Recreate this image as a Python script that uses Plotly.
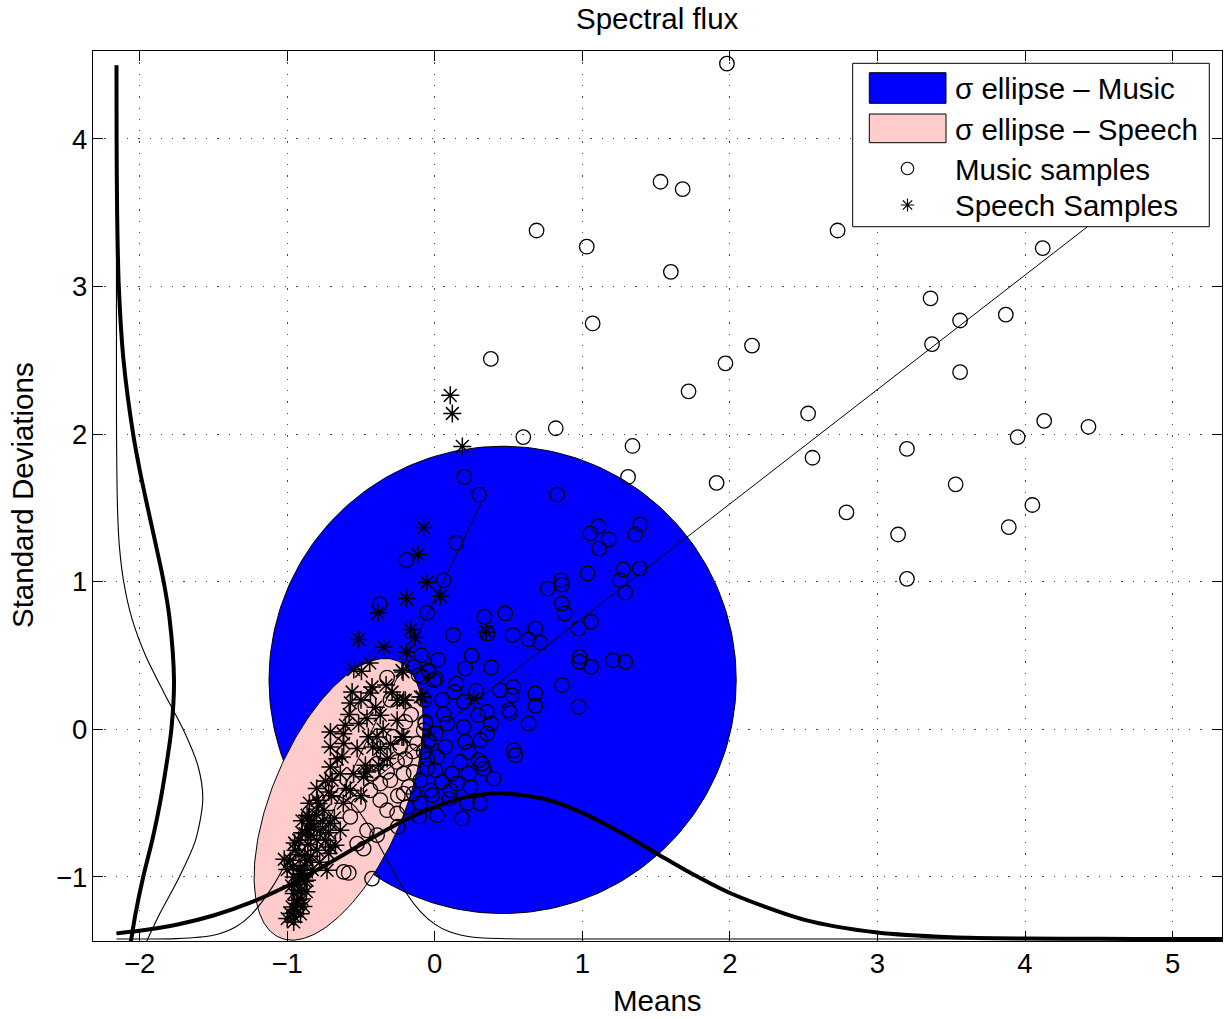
import numpy as np
import plotly.graph_objects as go

# ---------------- text ----------------
TITLE = "Spectral flux"
X_LABEL = "Means"
Y_LABEL = "Standard Deviations"
X_TICKS = [-2, -1, 0, 1, 2, 3, 4, 5]
Y_TICKS = [-1, 0, 1, 2, 3, 4]
LEGEND_LABELS = ["σ ellipse – Music", "σ ellipse – Speech", "Music samples", "Speech Samples"]

# ---------------- data ----------------
music_samples = [
    (1.98, 4.51), (1.53, 3.71), (1.68, 3.66), (0.69, 3.38), (1.03, 3.27), (2.73, 3.38),
    (4.12, 3.26), (1.60, 3.10), (3.36, 2.92), (1.07, 2.75), (3.87, 2.81), (3.56, 2.77),
    (3.37, 2.61), (2.15, 2.60), (0.38, 2.51), (1.97, 2.48), (3.56, 2.42), (1.72, 2.29),
    (2.53, 2.14), (0.82, 2.04), (0.60, 1.98), (4.13, 2.09), (4.43, 2.05), (3.95, 1.98),
    (1.34, 1.92), (3.20, 1.90), (2.56, 1.84), (0.20, 1.71), (1.31, 1.71), (1.91, 1.67),
    (3.53, 1.66), (0.30, 1.59), (0.83, 1.59), (2.79, 1.47), (4.05, 1.52), (3.89, 1.37),
    (3.14, 1.32), (3.20, 1.02),
    (0.146, 1.263), (1.11, 1.376), (1.054, 1.327), (1.178, 1.286), (1.115, 1.225),
    (1.393, 1.388), (1.359, 1.322), (1.036, 1.056), (1.276, 1.083), (1.388, 1.089),
    (1.257, 1.01), (0.06, 1.01), (0.856, 1.01), (1.291, 0.927), (0.765, 0.954),
    (0.862, 0.981), (0.862, 0.852), (0.88, 0.785), (-0.052, 0.789), (0.336, 0.762),
    (0.478, 0.785), (0.124, 0.638), (0.358, 0.649), (0.528, 0.638), (0.636, 0.61),
    (0.682, 0.683), (0.715, 0.588), (0.975, 0.683), (1.059, 0.728), (-0.091, 0.502),
    (0.982, 0.491), (0.98, 0.457), (1.059, 0.423), (1.208, 0.468), (1.291, 0.457),
    (0.207, 0.412), (0.383, 0.419), (-0.041, 0.40), (0.009, 0.344), (-0.109, 0.367),
    (0.146, 0.31), (0.133, 0.253), (0.444, 0.265), (0.53, 0.287), (0.524, 0.231),
    (0.682, 0.243), (0.862, 0.299), (0.196, 0.186), (0.354, 0.118), (0.501, 0.129),
    (0.682, 0.159), (0.975, 0.152), (0.06, 0.102), (-0.064, 0.039), (0.083, 0.039),
    (0.293, 0.096), (0.381, 0.039), (0.512, 0.111), (0.636, 0.039), (0.004, -0.028),
    (0.196, 0.016), (0.354, -0.028), (-0.041, -0.085), (0.072, -0.119), (0.207, -0.085),
    (0.309, -0.074), (-0.075, -0.153), (0.23, -0.153), (0.535, -0.142), (0.546, -0.175),
    (0.016, -0.187), (0.173, -0.221), (0.297, -0.209), (0.32, -0.232), (0.331, -0.266),
    (-0.052, -0.266), (0.004, -0.277), (0.117, -0.3), (0.23, -0.3), (0.399, -0.333),
    (-0.098, -0.345), (0.049, -0.356), (0.151, -0.367), (0.241, -0.39), (-0.03, -0.413),
    (0.106, -0.413), (-0.143, -0.435), (0.309, -0.503), (0.016, -0.582), (0.185, -0.604),
    (-0.188, -0.526), (-0.018, -0.446),
    (-0.192, 1.146), (-0.373, 0.847), (-0.323, 0.351), (-0.47, 0.148), (-0.064, 0.05),
    (-0.233, -0.119), (-0.255, -0.221), (-0.369, -0.367), (-0.12, -0.096), (-0.177, -0.39),
    (-0.211, -0.3), (-0.143, -0.289), (-0.323, -0.289), (-0.143, 0.423), (-0.041, 0.389),
    (-0.086, 0.355), (-0.007, 0.333), (-0.075, -0.006), (-0.041, -0.074), (-0.425, -0.3),
    (-0.301, -0.345), (-0.436, -0.413), (-0.369, -0.48), (-0.516, -0.514), (-0.572, -0.593),
    (-0.459, -0.684), (-0.526, -0.774), (-0.482, -0.808), (-0.391, -0.717), (-0.617, -0.966),
    (-0.583, -0.973), (-0.425, -1.011), (-0.211, -0.435), (-0.323, -0.548), (-0.255, -0.57),
    (-0.391, -0.232), (-0.346, -0.164),
    (-0.104, -0.592), (-0.25, -0.66), (-0.2, -0.2), (-0.28, -0.05), (-0.16, 0.1),
    (-0.3, 0.2), (-0.25, -0.45), (-0.1, -0.5), (-0.05, -0.2), (-0.15, -0.15),
    (0.22, -0.5), (0.1, -0.47), (-0.07, 0.2), (0.05, 0.2), (0.28, 0.26), (0.02, 0.47),
    (0.25, 0.5), (-0.2, 0.05),
]

speech_samples = [
    (0.105, 2.263), (0.119, 2.14), (0.187, 1.917), (-0.075, 1.367), (-0.113, 1.184),
    (-0.052, 0.995), (0.038, 0.902), (-0.192, 0.886), (-0.384, 0.789), (-0.516, 0.609),
    (-0.346, 0.558), (-0.165, 0.676), (-0.136, 0.622), (-0.192, 0.524), (-0.441, 0.45),
    (-0.549, 0.405), (-0.497, 0.394), (-0.222, 0.4), (0.35, 0.66), (0.264, 0.209),
    (-0.211, 0.197), (-0.098, 0.22), (-0.211, -0.051),
    (-0.215, 0.389), (-0.56, 0.253), (-0.572, 0.179), (-0.425, 0.287), (-0.436, 0.247),
    (-0.289, 0.253), (-0.255, 0.197), (-0.199, 0.197), (-0.086, 0.22), (-0.369, 0.096),
    (-0.459, 0.073), (-0.255, 0.062), (-0.516, 0.039), (-0.606, 0.028), (-0.707, -0.018),
    (-0.391, -0.051), (-0.222, -0.051), (-0.707, -0.119), (-0.617, -0.096), (-0.526, -0.13),
    (-0.628, -0.187), (-0.369, -0.13), (-0.707, -0.255), (-0.47, -0.243), (-0.459, -0.289),
    (-0.64, -0.3), (-0.482, -0.322), (-0.696, -0.345), (-0.719, -0.424), (-0.572, -0.413),
    (-0.323, -0.198), (-0.38, -0.243),
    (-0.787, -0.503), (-0.854, -0.593), (-0.797, -0.480), (-0.865, -0.582), (-0.843, -0.638),
    (-0.877, -0.706), (-0.775, -0.684), (-0.922, -0.751), (-0.741, -0.751), (-0.944, -0.819),
    (-0.797, -0.819), (-0.707, -0.797), (-0.978, -0.887), (-0.865, -0.887), (-0.730, -0.955),
    (-0.911, -0.955), (-0.956, -1.0), (-0.865, -1.023), (-0.911, -1.091), (-0.956, -1.112),
    (-0.933, -1.158), (-0.967, -1.203), (-0.978, -1.248), (-1.0, -1.282), (-0.956, -1.305),
    (-0.719, -0.841), (-0.673, -0.785), (-0.707, -0.638), (-0.640, -0.684),
    (-0.93, -1.05), (-0.9, -0.98), (-0.88, -0.92), (-0.9, -1.15), (-0.94, -1.22),
    (-0.91, -1.25), (-0.88, -0.85), (-0.86, -0.78), (-0.84, -0.72), (-0.82, -0.66),
    (-0.80, -0.75), (-0.78, -0.9), (-0.83, -0.95), (-0.87, -1.1), (-0.92, -0.85),
    (-0.96, -0.93), (-0.9, -0.7), (-0.85, -0.5), (-0.75, -0.55), (-0.7, -0.45),
    (-0.68, -0.6), (-0.62, -0.5), (-0.6, -0.4), (-0.66, -0.2), (-0.55, -0.3),
    (-0.5, -0.45), (-0.42, -0.12), (-0.35, 0.0), (-0.3, -0.1), (-0.58, 0.1),
    (-0.5, 0.2), (-0.4, 0.15), (-0.33, 0.3), (-0.45, -0.05), (-0.62, -0.03),
    (-0.74, -0.35), (-0.8, -0.4), (-0.93, -1.18), (-0.95, -1.27), (-0.89, -1.2),
    (-0.92, -0.98), (-0.86, -0.68), (-0.76, -0.62), (-0.72, -0.7), (-0.8, -0.58),
    (-0.9, -0.62), (-0.95, -0.77), (-0.97, -1.06), (-0.88, -1.03), (-0.84, -0.86),
    (-1.02, -0.88), (-1.0, -0.95),
]

# sigma ellipses: centre, semi-axes, tilt in degrees
music_center = (0.46, 0.335)
music_axes = (1.583, 1.583)
music_tilt = 0.0
speech_center = (-0.651, -0.474)
speech_axes = (1.019, 0.448)
speech_tilt = 67.0

# principal-axis lines (end points)
music_axis_x = [-0.62, 4.9]
music_axis_y = [-0.503, 3.775]
speech_axis_x = [-0.95, 0.32]
speech_axis_y = [-1.096, 1.546]

# marginal density curves (values above their base lines)
base_y = -1.42     # base of the horizontal (means) densities
base_x = -2.157    # base of the vertical (std) densities

mean_grid = [-2.157, -2.0, -1.75, -1.5, -1.25, -1.0, -0.75, -0.5, -0.25, 0.0, 0.25, 0.45,
             0.75, 1.0, 1.25, 1.5, 1.75, 2.0, 2.5, 3.0, 3.5, 4.0, 4.5, 5.0, 5.4]
music_mean_density = [0.0376, 0.055, 0.0964, 0.159, 0.246, 0.359, 0.494, 0.640, 0.780, 0.895,
                      0.968, 0.987, 0.946, 0.854, 0.726, 0.581, 0.438, 0.311, 0.131, 0.0433,
                      0.0113, 0.0023, 0.0004, 0.0, 0.0]

speech_mean_grid = [-2.157, -1.75, -1.5, -1.35, -1.25, -1.1, -1.0, -0.85, -0.75, -0.66, -0.55,
                    -0.45, -0.35, -0.2, -0.1, 0.0, 0.1, 0.25, 0.5, 1.0, 2.0, 3.0, 4.0, 5.4]
speech_mean_density = [0.0, 0.002, 0.025, 0.081, 0.158, 0.353, 0.529, 0.800, 0.926, 0.966, 0.907,
                       0.768, 0.586, 0.321, 0.189, 0.100, 0.048, 0.013, 0.001, 0.0, 0.0, 0.0,
                       0.0, 0.0]

std_grid = [-1.5, -1.25, -1.0, -0.75, -0.5, -0.25, 0.0, 0.33, 0.75, 1.0, 1.25, 1.5, 1.75, 2.0,
            2.5, 3.0, 3.5, 4.0, 4.5]
music_std_density = [0.088, 0.129, 0.181, 0.243, 0.295, 0.337, 0.372, 0.39, 0.36, 0.32, 0.267,
                     0.212, 0.159, 0.113, 0.048, 0.016, 0.0045, 0.001, 0.0002]

speech_std_grid = [-1.5, -1.25, -1.0, -0.75, -0.474, -0.25, 0.0, 0.25, 0.5, 0.75, 1.0, 1.25,
                   1.5, 2.0, 2.5, 3.0, 4.5]
speech_std_density = [0.175, 0.293, 0.426, 0.536, 0.585, 0.553, 0.452, 0.321, 0.197, 0.105,
                      0.049, 0.019, 0.007, 0.0005, 0.0, 0.0, 0.0]

# ---------------- styling / layout constants ----------------
W, H = 1230, 1019
L, R, T, B = 93, 8, 51, 78
X_RANGE = [-2.316, 5.335]
Y_RANGE = [-1.434, 4.596]
FONT = "Liberation Sans, Arial, Helvetica, sans-serif"
BLUE = "#0000FF"
PINK = "#FFCCCC"


def ellipse_path(center, axes, tilt_deg, n=240):
    t = np.linspace(0, 2 * np.pi, n)
    th = np.deg2rad(tilt_deg)
    a, b = axes
    ex = center[0] + a * np.cos(th) * np.cos(t) - b * np.sin(th) * np.sin(t)
    ey = center[1] + a * np.sin(th) * np.cos(t) + b * np.cos(th) * np.sin(t)
    return ex, ey


fig = go.Figure()

mx, my = ellipse_path(music_center, music_axes, music_tilt)
fig.add_trace(go.Scatter(x=mx, y=my, mode="lines", fill="toself", fillcolor=BLUE,
                         line=dict(color="black", width=1), hoverinfo="skip"))
sx, sy = ellipse_path(speech_center, speech_axes, speech_tilt)
fig.add_trace(go.Scatter(x=sx, y=sy, mode="lines", fill="toself", fillcolor=PINK,
                         line=dict(color="black", width=1), hoverinfo="skip"))

# principal axis lines
fig.add_trace(go.Scatter(x=music_axis_x, y=music_axis_y, mode="lines",
                         line=dict(color="black", width=1)))
fig.add_trace(go.Scatter(x=speech_axis_x, y=speech_axis_y, mode="lines",
                         line=dict(color="black", width=1)))

# samples
fig.add_trace(go.Scatter(x=[p[0] for p in music_samples], y=[p[1] for p in music_samples],
                         mode="markers",
                         marker=dict(symbol="circle-open", size=14.5, color="black",
                                     line=dict(width=1.3))))
fig.add_trace(go.Scatter(x=[p[0] for p in speech_samples], y=[p[1] for p in speech_samples],
                         mode="markers",
                         marker=dict(symbol="asterisk-open", size=15, color="black",
                                     line=dict(width=1.5))))

# marginal densities
fig.add_trace(go.Scatter(x=speech_mean_grid, y=[base_y + v for v in speech_mean_density],
                         mode="lines", line=dict(color="black", width=1.1, shape="spline",
                                                 smoothing=0.8)))
fig.add_trace(go.Scatter(x=[base_x + v for v in speech_std_density], y=speech_std_grid,
                         mode="lines", line=dict(color="black", width=1.1, shape="spline",
                                                 smoothing=0.8)))
fig.add_trace(go.Scatter(x=mean_grid, y=[base_y + v for v in music_mean_density],
                         mode="lines", line=dict(color="black", width=4, shape="spline",
                                                 smoothing=0.8)))
fig.add_trace(go.Scatter(x=[base_x + v for v in music_std_density], y=std_grid,
                         mode="lines", line=dict(color="black", width=4, shape="spline",
                                                 smoothing=0.8)))

# ---------------- legend (drawn in a pixel-space overlay) ----------------
box = (852.7, 63.3, 1209.3, 226.7)
fig.add_trace(go.Scatter(x=[box[0], box[2], box[2], box[0], box[0]],
                         y=[box[1], box[1], box[3], box[3], box[1]],
                         xaxis="x2", yaxis="y2", mode="lines", fill="toself",
                         fillcolor="white", line=dict(color="black", width=1)))
for (y0, y1), col in [((72.7, 103.3), BLUE), ((114.0, 142.7), PINK)]:
    fig.add_trace(go.Scatter(x=[869.3, 946, 946, 869.3, 869.3], y=[y0, y0, y1, y1, y0],
                             xaxis="x2", yaxis="y2", mode="lines", fill="toself",
                             fillcolor=col, line=dict(color="black", width=1)))
fig.add_trace(go.Scatter(x=[907.5], y=[168.5], xaxis="x2", yaxis="y2", mode="markers",
                         marker=dict(symbol="circle-open", size=12.5, color="black",
                                     line=dict(width=1.2))))
fig.add_trace(go.Scatter(x=[907.5], y=[205], xaxis="x2", yaxis="y2", mode="markers",
                         marker=dict(symbol="asterisk-open", size=11, color="black",
                                     line=dict(width=1.2))))

annotations = []
for lab, yy in zip(LEGEND_LABELS, [88.3, 129.5, 169, 205.5]):
    annotations.append(dict(text=lab, x=952.7, y=yy, xref="x2", yref="y2", xanchor="left",
                            yanchor="middle", showarrow=False,
                            font=dict(family=FONT, size=29.5, color="black")))


def px_to_paper(px, py):
    return (px - L) / (W - L - R), (H - B - py) / (H - T - B)


tx, ty = px_to_paper(657.5, 18)
annotations.append(dict(text=TITLE, x=tx, y=ty, xref="paper", yref="paper", xanchor="center",
                        yanchor="middle", showarrow=False,
                        font=dict(family=FONT, size=29.5, color="black")))
ax_, ay_ = px_to_paper(657.5, 1000)
annotations.append(dict(text=X_LABEL, x=ax_, y=ay_, xref="paper", yref="paper",
                        xanchor="center", yanchor="middle", showarrow=False,
                        font=dict(family=FONT, size=29.5, color="black")))
bx_, by_ = px_to_paper(23, 495)
annotations.append(dict(text=Y_LABEL, x=bx_, y=by_, xref="paper", yref="paper",
                        xanchor="center", yanchor="middle", showarrow=False, textangle=-90,
                        font=dict(family=FONT, size=29.5, color="black")))

axis_common = dict(showline=True, linecolor="black", linewidth=1.3, mirror="ticks",
                   ticks="inside", ticklen=10, tickwidth=1.2, tickcolor="black",
                   showgrid=True, gridcolor="rgb(70,70,70)", gridwidth=1.2,
                   griddash="1.3px,10px", zeroline=False,
                   tickfont=dict(family=FONT, size=27.5, color="black"), fixedrange=True)

fig.update_layout(
    width=W, height=H, autosize=False,
    margin=dict(l=L, r=R, t=T, b=B, pad=0),
    paper_bgcolor="white", plot_bgcolor="white",
    showlegend=False, hovermode=False,
    xaxis=dict(range=X_RANGE, tickvals=X_TICKS, ticktext=[f"{v}".replace("-", "\u2212") for v in X_TICKS],
               ticklabelstandoff=-2, **axis_common),
    yaxis=dict(range=Y_RANGE, tickvals=Y_TICKS, ticktext=[f"{v}".replace("-", "\u2212") for v in Y_TICKS],
               ticklabelstandoff=-1, **axis_common),
    xaxis2=dict(overlaying="x", range=[L, W - R], visible=False, fixedrange=True),
    yaxis2=dict(overlaying="y", range=[H - B, T], visible=False, fixedrange=True),
    annotations=annotations,
)

fig.write_html("out.html")
